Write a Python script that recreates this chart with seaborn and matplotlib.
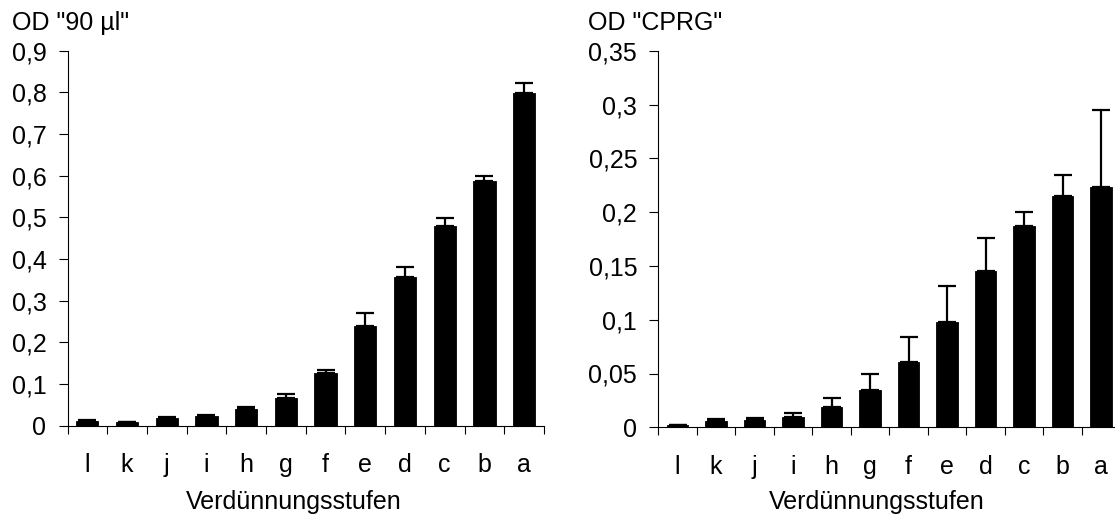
import matplotlib
matplotlib.use("Agg")
import matplotlib.pyplot as plt
import matplotlib.transforms as mtransforms
import seaborn as sns
import numpy as np
import pandas as pd

# ---- data ----
categories = ["l", "k", "j", "i", "h", "g", "f", "e", "d", "c", "b", "a"]
od_90_values = [0.011, 0.009, 0.018, 0.024, 0.040, 0.066, 0.127, 0.239, 0.356, 0.479, 0.587, 0.798]
od_90_errors = [0.002, 0.001, 0.002, 0.002, 0.005, 0.009, 0.007, 0.031, 0.026, 0.019, 0.012, 0.025]
od_cprg_values = [0.002, 0.0062, 0.0068, 0.0096, 0.0186, 0.0344, 0.0604, 0.098, 0.145, 0.187, 0.2145, 0.2235]
od_cprg_errors = [0.0005, 0.0012, 0.0022, 0.004, 0.0087, 0.0155, 0.0233, 0.033, 0.031, 0.013, 0.020, 0.071]
left_title = 'OD "90 µl"'
right_title = 'OD "CPRG"'
x_label = "Verdünnungsstufen"
left_yticks = [0, 0.1, 0.2, 0.3, 0.4, 0.5, 0.6, 0.7, 0.8, 0.9]
right_yticks = [0, 0.05, 0.1, 0.15, 0.2, 0.25, 0.3, 0.35]

sns.set_style("ticks")
plt.rcParams["font.family"] = ["Liberation Sans", "DejaVu Sans"]
plt.rcParams["text.color"] = "black"
plt.rcParams["axes.labelcolor"] = "black"
plt.rcParams["xtick.color"] = "black"
plt.rcParams["ytick.color"] = "black"
FS = 18

W, H = 1115, 515
fig = plt.figure(figsize=(W / 100, H / 100), dpi=100)


def px_axes(x0, x1, ytop, ybot):
    return fig.add_axes([x0 / W, 1 - ybot / H, (x1 - x0) / W, (ybot - ytop) / H])


def fmt(v):
    return ("%g" % v).replace(".", ",")


def draw(ax, values, errors, yticks, title, title_x, xlabel_frac):
    df = pd.DataFrame({"cat": categories, "val": values})
    sns.barplot(data=df, x="cat", y="val", color="black", ax=ax, width=0.56,
                edgecolor="black", linewidth=0.6, saturation=1, errorbar=None)
    pos = np.arange(len(categories))
    ax.errorbar(pos, values, yerr=[np.zeros(len(values)), errors], fmt="none",
                ecolor="black", elinewidth=1.6, capsize=6.2, capthick=1.6)
    ax.set_xlim(-0.5, len(categories) - 0.5)
    ax.set_ylim(0, yticks[-1])
    ax.set_yticks(yticks)
    ax.set_yticklabels([fmt(v) for v in yticks], fontsize=FS, color="black")
    ax.tick_params(axis="y", direction="out", length=6.2, width=0.8, pad=9, colors="black")
    ax.set_xticks(pos)
    ax.set_xticklabels(categories, fontsize=FS, color="black")
    ax.tick_params(axis="x", which="major", length=0, pad=20)
    ax.set_xticks(np.arange(len(categories) + 1) - 0.5, minor=True)
    ax.tick_params(axis="x", which="minor", direction="out", length=5.8, width=0.8, colors="black")
    ax.set_ylabel("")
    ax.set_xlabel(x_label, fontsize=FS, color="black")
    trans = mtransforms.blended_transform_factory(ax.transAxes, fig.transFigure)
    ax.xaxis.set_label_coords(xlabel_frac, 1 - 490 / H, transform=trans)
    for s in ["top", "right"]:
        ax.spines[s].set_visible(False)
    for s in ["left", "bottom"]:
        ax.spines[s].set_linewidth(0.8)
        ax.spines[s].set_color("black")
    fig.text(title_x / W, 1 - 30 / H, title, fontsize=FS, va="baseline", ha="left", color="black")


ax1 = px_axes(67.5, 544, 50.7, 425.7)
draw(ax1, od_90_values, od_90_errors, left_yticks, left_title, 11.5, 0.474)

ax2 = px_axes(658.3, 1120.3, 50.7, 427.3)
draw(ax2, od_cprg_values, od_cprg_errors, right_yticks, right_title, 588, 0.472)

fig.savefig("out.png", dpi=100)
